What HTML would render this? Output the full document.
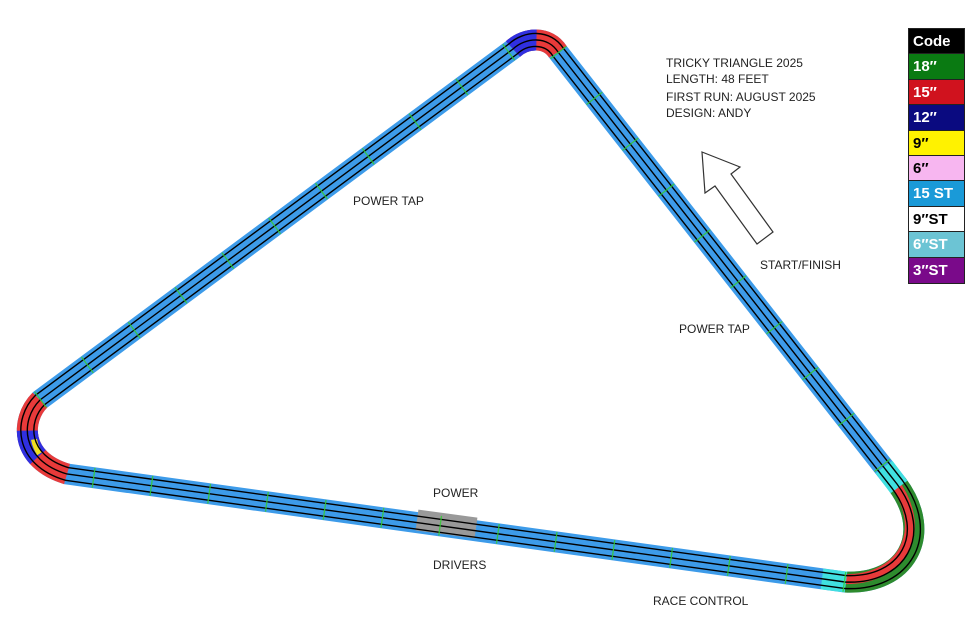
<!DOCTYPE html>
<html><head><meta charset="utf-8"><style>
body{margin:0;background:#fff;width:980px;height:622px;overflow:hidden;font-family:"Liberation Sans",sans-serif}
.lg{position:absolute;left:908px;top:28px;width:55px;border:1px solid #222}
.lg div{height:25.4px;border-bottom:1px solid #222;font:bold 15px "Liberation Sans",sans-serif;line-height:25px;padding-left:4px;box-sizing:border-box}
</style></head><body>
<svg width="980" height="622" style="position:absolute;left:0;top:0">
<defs>
<path id="t" d="M 513,49 C 526,37 548,36 558,52 L 897,484 C 935,535 905,585 845,582 L 67,474 C 20,460 20,420 40,400 Z"/>
<mask id="ring"><rect width="980" height="622" fill="#000"/><use href="#t" fill="none" stroke="#fff" stroke-width="14.4"/><use href="#t" fill="none" stroke="#000" stroke-width="11.6"/></mask>
</defs>
<use href="#t" fill="none" stroke="#3d9be9" stroke-width="21"/>
<!-- top corner -->
<path d="M 513,49 C 526,37 548,36 558,52" pathLength="100" fill="none" stroke="#e83a3a" stroke-width="21"/>
<path d="M 513,49 C 526,37 548,36 558,52" pathLength="100" fill="none" stroke="#3030e0" stroke-width="21" stroke-dasharray="50 100"/>
<!-- left corner -->
<path d="M 40,400 C 20,420 20,460 67,474" pathLength="100" fill="none" stroke="#e83a3a" stroke-width="21"/>
<path d="M 40,400 C 20,420 20,460 67,474" pathLength="100" fill="none" stroke="#3030e0" stroke-width="21" stroke-dasharray="0 35 30 100"/>
<path d="M 40,400 C 20,420 20,460 67,474" pathLength="100" fill="none" stroke="#f0e020" stroke-width="6" stroke-dasharray="0 42 16 100" transform="translate(6,2)"/>
<!-- right corner -->
<path d="M 897,484 C 935,535 905,585 845,582" pathLength="100" fill="none" stroke="#2e8b2e" stroke-width="21"/>
<path d="M 897,484 C 935,535 905,585 845,582" pathLength="100" fill="none" stroke="#e83a3a" stroke-width="10" transform="translate(-4,-3)"/>
<path d="M 884,467 L 899,487" fill="none" stroke="#40e0e0" stroke-width="21"/>
<path d="M 822,579 L 846,582" fill="none" stroke="#40e0e0" stroke-width="21"/>
<path d="M 417,520 L 476,528" fill="none" stroke="#999" stroke-width="21"/>
<rect width="980" height="622" fill="#000" mask="url(#ring)"/>
<use href="#t" fill="none" stroke="#000" stroke-width="1.4"/>
<path d="M 558,52 L 897,484 M 845,582 L 67,474 M 40,400 L 513,49" fill="none" stroke="#3c3" stroke-width="20" stroke-dasharray="1.3 57" opacity="0.85"/>
<polygon points="702,152 740,167 731,174 773,232 757,244 715,186 705,193" fill="#fff" stroke="#333" stroke-width="1.2"/>
<g font-family="Liberation Sans, sans-serif" font-size="12" fill="#222">
<text x="666" y="67">TRICKY TRIANGLE 2025</text>
<text x="666" y="83">LENGTH:  48 FEET</text>
<text x="666" y="101">FIRST RUN:  AUGUST 2025</text>
<text x="666" y="117">DESIGN: ANDY</text>
<text x="353" y="205">POWER TAP</text>
<text x="760" y="269">START/FINISH</text>
<text x="679" y="333">POWER TAP</text>
<text x="433" y="497">POWER</text>
<text x="433" y="569">DRIVERS</text>
<text x="653" y="605">RACE CONTROL</text>
</g>
</svg>
<div class="lg">
<div style="background:#000;color:#fff">Code</div>
<div style="background:#0a7a12;color:#fff">18″</div>
<div style="background:#d0121e;color:#fff">15″</div>
<div style="background:#0a0a80;color:#fff">12″</div>
<div style="background:#fff200;color:#000">9″</div>
<div style="background:#f7b6f0;color:#000">6″</div>
<div style="background:#1a9ad8;color:#fff">15 ST</div>
<div style="background:#fff;color:#000">9″ST</div>
<div style="background:#6cc4d4;color:#fff">6″ST</div>
<div style="background:#7a0a8a;color:#fff;border-bottom:none">3″ST</div>
</div>
</body></html>
